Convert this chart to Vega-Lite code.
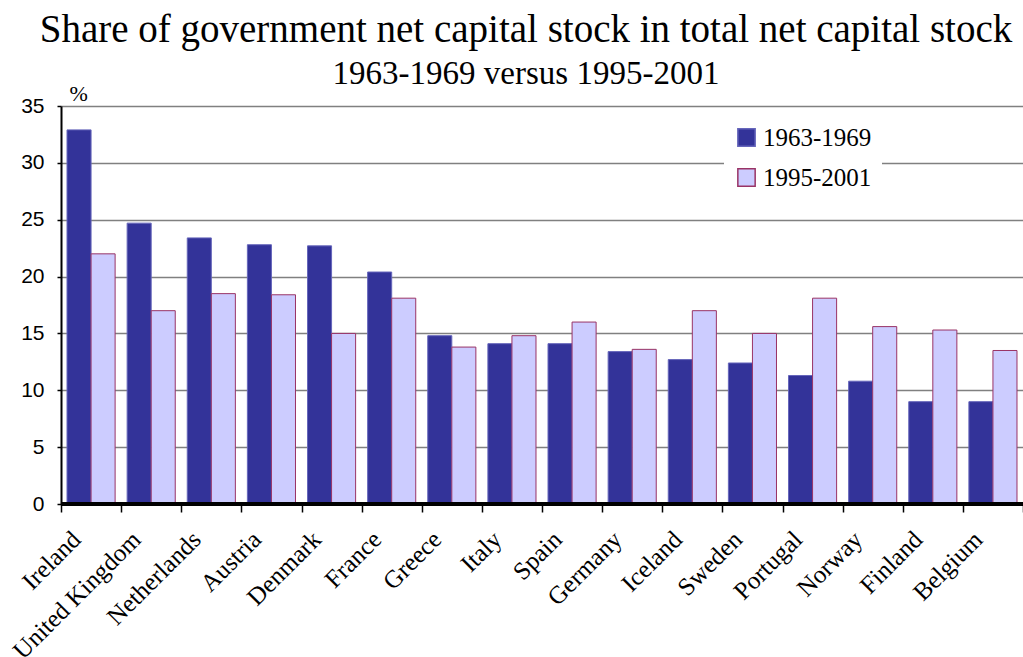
{
  "$schema": "https://vega.github.io/schema/vega-lite/v6.json",
  "autosize": {"type": "none"},
  "width": 962,
  "height": 398,
  "padding": {"left": 61, "top": 106, "right": 0, "bottom": 153},
  "background": "white",
  "title": {
    "text": "Share of government net capital stock in total net capital stock",
    "subtitle": "1963-1969 versus 1995-2001",
    "font": "Liberation Serif",
    "fontSize": 39,
    "fontWeight": "normal",
    "color": "black",
    "subtitleFont": "Liberation Serif",
    "subtitleFontSize": 33,
    "subtitleColor": "black",
    "subtitlePadding": 8,
    "anchor": "middle",
    "frame": "group",
    "dx": -16,
    "offset": -9
  },
  "data": {
    "values": [
      {"country": "Ireland", "period": "1963-1969", "value": 32.9},
      {"country": "Ireland", "period": "1995-2001", "value": 22.0},
      {"country": "United Kingdom", "period": "1963-1969", "value": 24.7},
      {"country": "United Kingdom", "period": "1995-2001", "value": 17.0},
      {"country": "Netherlands", "period": "1963-1969", "value": 23.4},
      {"country": "Netherlands", "period": "1995-2001", "value": 18.5},
      {"country": "Austria", "period": "1963-1969", "value": 22.8},
      {"country": "Austria", "period": "1995-2001", "value": 18.4},
      {"country": "Denmark", "period": "1963-1969", "value": 22.7},
      {"country": "Denmark", "period": "1995-2001", "value": 15.0},
      {"country": "France", "period": "1963-1969", "value": 20.4},
      {"country": "France", "period": "1995-2001", "value": 18.1},
      {"country": "Greece", "period": "1963-1969", "value": 14.8},
      {"country": "Greece", "period": "1995-2001", "value": 13.8},
      {"country": "Italy", "period": "1963-1969", "value": 14.1},
      {"country": "Italy", "period": "1995-2001", "value": 14.8},
      {"country": "Spain", "period": "1963-1969", "value": 14.1},
      {"country": "Spain", "period": "1995-2001", "value": 16.0},
      {"country": "Germany", "period": "1963-1969", "value": 13.4},
      {"country": "Germany", "period": "1995-2001", "value": 13.6},
      {"country": "Iceland", "period": "1963-1969", "value": 12.7},
      {"country": "Iceland", "period": "1995-2001", "value": 17.0},
      {"country": "Sweden", "period": "1963-1969", "value": 12.4},
      {"country": "Sweden", "period": "1995-2001", "value": 15.0},
      {"country": "Portugal", "period": "1963-1969", "value": 11.3},
      {"country": "Portugal", "period": "1995-2001", "value": 18.1},
      {"country": "Norway", "period": "1963-1969", "value": 10.8},
      {"country": "Norway", "period": "1995-2001", "value": 15.6},
      {"country": "Finland", "period": "1963-1969", "value": 9.0},
      {"country": "Finland", "period": "1995-2001", "value": 15.3},
      {"country": "Belgium", "period": "1963-1969", "value": 9.0},
      {"country": "Belgium", "period": "1995-2001", "value": 13.5}
    ]
  },
  "layer": [
    {
      "mark": {"type": "bar", "strokeWidth": 1},
      "encoding": {
        "x": {
          "field": "country",
          "type": "nominal",
          "sort": null,
          "scale": {"paddingInner": 0, "paddingOuter": 0},
          "axis": {
            "title": null,
            "ticks": true,
            "tickBand": "extent",
            "tickSize": 8,
            "tickColor": "black",
            "tickWidth": 1.5,
            "domain": true,
            "domainColor": "black",
            "domainWidth": 2.5,
            "labelAngle": -45,
            "labelAlign": "right",
            "labelBaseline": "middle",
            "labelFont": "Liberation Serif",
            "labelFontSize": 25,
            "labelColor": "black",
            "labelPadding": 23,
            "labelOffset": -15,
            "grid": false
          }
        },
        "xOffset": {"field": "period", "type": "nominal", "scale": {"paddingInner": 0, "paddingOuter": 0.25}},
        "y": {
          "field": "value",
          "type": "quantitative",
          "scale": {"domain": [0, 35], "nice": false},
          "axis": {
            "values": [0, 5, 10, 15, 20, 25, 30, 35],
            "title": "%",
            "titleAngle": 0,
            "titleFont": "Liberation Serif",
            "titleFontSize": 22,
            "titleFontWeight": "normal",
            "titleColor": "black",
            "titleAlign": "left",
            "titleBaseline": "alphabetic",
            "titleX": 8,
            "titleY": -6,
            "labelFont": "Liberation Sans",
            "labelFontSize": 21,
            "labelColor": "black",
            "labelPadding": 13,
            "tickSize": 4,
            "tickColor": "black",
            "tickWidth": 1.5,
            "domainColor": "black",
            "domainWidth": 2,
            "grid": true,
            "gridColor": "#808080",
            "gridWidth": 1.5
          }
        },
        "fill": {
          "field": "period",
          "type": "nominal",
          "scale": {"range": ["#333399", "#CCCCFF"]},
          "legend": {
            "title": null,
            "orient": "none",
            "legendX": 663,
            "legendY": 9,
            "fillColor": "white",
            "padding": 10,
            "symbolType": "square",
            "symbolSize": 300,
            "symbolStrokeWidth": 1.5,
            "labelFont": "Liberation Serif",
            "labelFontSize": 25,
            "labelColor": "black",
            "labelOffset": 4,
            "rowPadding": 14
          }
        },
        "stroke": {
          "field": "period",
          "type": "nominal",
          "scale": {"range": ["#6666BB", "#993366"]},
          "legend": {
            "title": null,
            "orient": "none",
            "legendX": 663,
            "legendY": 9,
            "fillColor": "white",
            "padding": 10,
            "symbolType": "square",
            "symbolSize": 300,
            "symbolStrokeWidth": 1.5,
            "labelFont": "Liberation Serif",
            "labelFontSize": 25,
            "labelColor": "black",
            "labelOffset": 4,
            "rowPadding": 14
          }
        }
      }
    },
    {
      "mark": {"type": "rule", "color": "black", "strokeWidth": 2.5},
      "encoding": {"y": {"datum": 0, "type": "quantitative"}}
    }
  ],
  "config": {
    "view": {"stroke": null}
  }
}
